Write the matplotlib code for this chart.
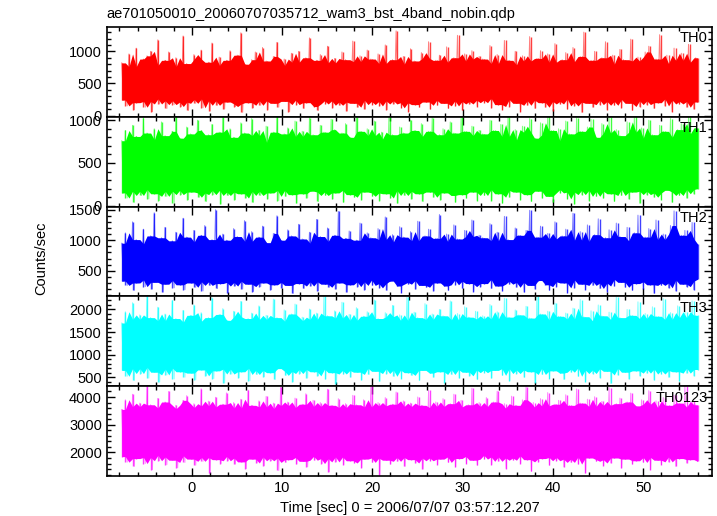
import numpy as np
import matplotlib
matplotlib.use('Agg')
import matplotlib.pyplot as plt
from matplotlib.ticker import MultipleLocator

plt.rcParams['font.family'] = ['Liberation Sans', 'DejaVu Sans']

title = 'ae701050010_20060707035712_wam3_bst_4band_nobin.qdp'
xlabel = 'Time [sec] 0 = 2006/07/07 03:57:12.207'
ylabel = 'Counts/sec'
t_start = -7.75
t_end = 56.0

# peak / trough values, one pair per time bin
th0_hi = [
820, 700, 960, 760, 1050, 690, 880, 930, 1000, 780,
1180, 720, 860, 990, 670, 900, 760, 1240, 810, 700,
950, 880, 1020, 740, 830, 1130, 690, 910, 780, 860,
1010, 720, 940, 1290, 800, 680, 870, 990, 760, 1060,
850, 700, 920, 1140, 780, 880, 660, 970, 830, 1000,
740, 900, 1210, 790, 860, 950, 710, 1080, 820, 890,
760, 990, 870, 700, 1160, 840, 930, 780, 1020, 880,
690, 960, 810, 1100, 750, 870, 1320, 800, 920, 760,
1040, 850, 700, 980, 890, 1150, 770, 860, 940, 720,
1070, 830, 900, 1250, 780, 960, 850, 1010, 880, 920,
880, 740, 1090, 810, 950, 700, 1170, 860, 790, 1000,
720, 930, 850, 1230, 770, 890, 1010, 690, 960, 830,
1120, 750, 870, 980, 710, 1060, 840, 920, 1300, 780,
860, 1000, 730, 900, 1150, 800, 940, 690, 1030, 870,
760, 1190, 850, 910, 720, 990, 1080, 770, 880, 1260,
810, 940, 700, 1050, 860, 970, 740, 1110, 830, 900]
th0_lo = [
240, 150, 310, 90, 200, 280, 130, 220, 60, 260,
180, 300, 110, 230, 170, 270, 140, 210, 80, 250,
190, 320, 120, 260, 70, 230, 160, 290, 100, 210,
250, 140, 180, 50, 270, 200, 120, 310, 160, 230,
90, 260, 190, 130, 280, 220, 60, 240, 170, 300,
110, 200, 250, 140, 80, 270, 180, 230, 120, 290,
160, 210, 70, 260, 190, 130, 240, 100, 280, 170,
220, 150, 300, 90, 230, 180, 260, 120, 200, 60,
250, 170, 130, 290, 210, 100, 240, 160, 270, 190,
110, 230, 150, 280, 80, 220, 180, 260, 140, 240,
200, 270, 120, 310, 170, 90, 250, 140, 290, 190,
60, 230, 160, 280, 110, 240, 200, 130, 300, 70,
220, 180, 260, 100, 290, 150, 210, 50, 270, 190,
130, 240, 170, 300, 90, 220, 160, 280, 120, 250,
190, 80, 270, 140, 230, 170, 310, 110, 200, 260,
150, 290, 60, 240, 180, 220, 130, 270, 100, 210]

th1_hi = [
760, 880, 690, 940, 810, 720, 1030, 850, 770, 900,
680, 980, 820, 740, 870, 1050, 790, 700, 920, 840,
760, 1000, 880, 710, 830, 950, 770, 860, 1040, 730,
900, 800, 690, 970, 850, 760, 1020, 820, 880, 740,
930, 700, 860, 1050, 780, 840, 910, 720, 990, 810,
870, 750, 1030, 830, 700, 940, 860, 780, 1010, 890,
730, 850, 960, 800, 720, 1040, 870, 760, 900, 820,
990, 740, 860, 780, 1050, 830, 710, 920, 850, 770,
1000, 880, 740, 960, 810, 870, 1030, 760, 830, 900,
720, 980, 850, 790, 1040, 870, 750, 930, 820, 880,
840, 760, 1000, 880, 720, 950, 810, 1040, 770, 890,
700, 930, 860, 1020, 790, 740, 970, 830, 1050, 880,
760, 900, 710, 990, 840, 780, 1030, 870, 750, 920,
1010, 800, 730, 960, 850, 1040, 770, 890, 820, 700,
980, 860, 1050, 740, 910, 790, 1000, 830, 760, 940,
870, 720, 1020, 800, 890, 960, 750, 1040, 840, 910]
th1_lo = [
150, 90, 210, 40, 170, 120, 230, 80, 190, 140,
60, 200, 110, 170, 30, 220, 130, 180, 70, 160,
240, 100, 150, 50, 200, 130, 180, 20, 210, 120,
160, 70, 230, 140, 90, 190, 40, 170, 120, 210,
80, 150, 200, 60, 180, 110, 230, 130, 30, 190,
140, 90, 170, 220, 50, 160, 120, 200, 80, 150,
210, 40, 180, 130, 100, 230, 70, 160, 190, 110,
150, 60, 220, 140, 90, 180, 30, 200, 120, 170,
80, 210, 140, 50, 190, 160, 100, 230, 70, 150,
180, 120, 40, 200, 130, 90, 210, 160, 60, 170,
120, 190, 60, 220, 140, 30, 180, 100, 240, 160,
70, 200, 130, 50, 210, 170, 90, 230, 110, 40,
190, 150, 220, 80, 160, 20, 200, 130, 180, 60,
230, 110, 170, 90, 210, 140, 50, 190, 120, 220,
80, 160, 200, 30, 170, 130, 240, 100, 150, 70,
210, 180, 40, 160, 120, 230, 90, 190, 140, 200]

th2_hi = [
950, 1120, 880, 1300, 1010, 860, 1180, 940, 1070, 1450,
900, 1040, 1210, 870, 990, 1130, 920, 1360, 1050, 880,
1160, 970, 1080, 1240, 890, 1010, 1500, 940, 1100, 1000,
870, 1190, 1060, 920, 1320, 980, 1140, 900, 1050, 1230,
960, 880, 1110, 1400, 1000, 930, 1170, 1070, 890, 1260,
1020, 950, 1130, 870, 1340, 1060, 980, 1200, 910, 1080,
1470, 940, 1030, 1150, 880, 1000, 1280, 960, 1120, 1040,
900, 1190, 1010, 1380, 930, 1090, 970, 1220, 1050, 890,
1140, 990, 1310, 920, 1070, 1180, 950, 1030, 1420, 980,
1100, 880, 1250, 1020, 960, 1160, 1060, 1330, 940, 1080,
1040, 920, 1270, 990, 1130, 880, 1390, 1010, 960, 1200,
1080, 900, 1160, 1490, 950, 1050, 1230, 870, 1110, 1020,
1300, 940, 1070, 1180, 910, 1440, 1000, 1140, 980, 1250,
890, 1090, 1350, 960, 1040, 1170, 920, 1280, 1060, 990,
1210, 880, 1120, 1410, 970, 1050, 1190, 930, 1330, 1010,
1100, 950, 1240, 1480, 900, 1080, 1160, 1020, 1290, 940]
th2_lo = [
330, 260, 390, 180, 300, 420, 240, 350, 200, 310,
380, 150, 280, 340, 220, 400, 270, 190, 360, 300,
230, 410, 170, 320, 260, 380, 210, 290, 350, 140,
310, 250, 370, 200, 330, 280, 160, 390, 240, 300,
350, 190, 270, 420, 220, 310, 260, 130, 340, 290,
210, 380, 250, 320, 170, 360, 280, 230, 400, 200,
300, 340, 150, 270, 390, 240, 320, 190, 350, 260,
410, 220, 290, 180, 330, 370, 250, 140, 310, 280,
360, 200, 340, 260, 230, 390, 170, 300, 320, 250,
180, 350, 270, 400, 210, 330, 290, 160, 370, 240,
290, 360, 210, 400, 250, 170, 330, 280, 390, 230,
310, 150, 370, 260, 200, 340, 420, 270, 180, 320,
240, 380, 300, 140, 350, 220, 400, 280, 190, 330,
260, 410, 210, 300, 160, 360, 250, 390, 310, 230,
340, 180, 290, 370, 200, 320, 270, 130, 380, 260,
300, 220, 350, 170, 410, 280, 240, 330, 190, 360]

th3_hi = [
1700, 1950, 1620, 2150, 1780, 1880, 1600, 2290, 1820, 1690,
2050, 1750, 1900, 1640, 2200, 1800, 1720, 1980, 1660, 1870,
2100, 1740, 1930, 1610, 1820, 2260, 1700, 1890, 2020, 1760,
1650, 1960, 1840, 2180, 1710, 1800, 1920, 1630, 2080, 1780,
1870, 1690, 2230, 1820, 1740, 1990, 1660, 1900, 2120, 1750,
1830, 1640, 2010, 1780, 1920, 1700, 2290, 1860, 1730, 1970,
1810, 2160, 1680, 1890, 1760, 2040, 1620, 1850, 1950, 1720,
2210, 1800, 1670, 1930, 1840, 2090, 1710, 1880, 1760, 2270,
1690, 1940, 1820, 1650, 2130, 1780, 1900, 1730, 2000, 1860,
1640, 2190, 1770, 1910, 1700, 2060, 1830, 1680, 1960, 1790,
1860, 1700, 2110, 1790, 1950, 1640, 2250, 1830, 1720, 1990,
1880, 1660, 2070, 1810, 1740, 2290, 1900, 1680, 1960, 1770,
2140, 1850, 1620, 1920, 1790, 2030, 1710, 2220, 1840, 1750,
1970, 1690, 2100, 1860, 1780, 1940, 1650, 2280, 1820, 1730,
2000, 1870, 1700, 2170, 1800, 1910, 1660, 2060, 1850, 1760,
2240, 1780, 1930, 1690, 2080, 1820, 1950, 1710, 2190, 1870]
th3_lo = [
650, 520, 760, 430, 690, 580, 810, 480, 720, 610,
390, 680, 550, 770, 460, 700, 620, 500, 740, 590,
440, 710, 660, 530, 800, 470, 640, 730, 370, 680,
570, 750, 490, 620, 700, 420, 780, 560, 650, 510,
730, 600, 450, 690, 760, 540, 630, 400, 710, 580,
670, 480, 790, 620, 530, 740, 460, 680, 600, 350,
720, 570, 650, 500, 770, 610, 440, 700, 560, 740,
630, 410, 690, 580, 720, 520, 660, 470, 780, 600,
540, 710, 430, 650, 760, 590, 500, 690, 620, 380,
730, 560, 670, 480, 750, 610, 530, 700, 450, 660,
600, 720, 480, 650, 780, 540, 690, 420, 740, 580,
660, 500, 760, 620, 380, 700, 560, 730, 470, 640,
790, 590, 450, 680, 610, 750, 520, 710, 400, 660,
580, 740, 490, 690, 630, 360, 770, 550, 700, 610,
460, 720, 640, 530, 780, 590, 680, 440, 730, 570,
650, 500, 760, 620, 410, 700, 590, 740, 530, 670]

th0123_hi = [
3550, 3900, 3420, 4100, 3650, 3780, 3480, 4390, 3720, 3600,
3950, 3500, 3820, 4200, 3580, 3700, 3460, 3880, 4050, 3620,
3760, 3440, 4300, 3680, 3850, 3520, 3990, 3640, 3740, 4150,
3480, 3800, 3600, 3920, 3560, 4250, 3700, 3450, 3860, 3640,
4020, 3580, 3780, 3500, 4350, 3690, 3820, 3540, 3960, 3620,
3740, 4120, 3460, 3880, 3660, 3800, 3520, 4280, 3700, 3580,
3940, 3620, 3760, 3480, 4060, 3720, 3560, 3900, 3640, 4390,
3520, 3800, 3680, 3980, 3600, 3740, 4180, 3500, 3860, 3660,
3780, 3540, 4000, 3700, 3620, 4240, 3580, 3820, 3660, 3940,
3500, 3760, 4100, 3640, 3880, 3560, 3720, 4320, 3600, 3800,
3660, 3980, 3520, 3820, 4210, 3600, 3760, 3480, 4030, 3700,
3580, 3900, 4370, 3640, 3800, 3500, 3940, 3680, 4160, 3560,
3740, 3880, 3460, 4080, 3700, 3620, 4290, 3780, 3540, 3920,
3660, 4010, 3580, 3840, 3700, 4340, 3520, 3760, 3960, 3600,
3820, 4140, 3680, 3500, 3900, 3740, 4230, 3620, 3860, 3560,
3980, 3700, 3480, 4060, 3780, 3640, 4390, 3580, 3840, 3720]
th0123_lo = [
1850, 1650, 2000, 1500, 1780, 1920, 1600, 1820, 1380, 1900,
1700, 1980, 1560, 1840, 1720, 1450, 1880, 1640, 1960, 1760,
1540, 1900, 1680, 1820, 1250, 1940, 1740, 1600, 1860, 1700,
1980, 1580, 1800, 1660, 1420, 1900, 1760, 1620, 1840, 1520,
1960, 1700, 1800, 1350, 1880, 1640, 1740, 1920, 1580, 1820,
1680, 1480, 1940, 1720, 1860, 1600, 1780, 1300, 1900, 1660,
1840, 1560, 1980, 1700, 1620, 1880, 1450, 1760, 1920, 1640,
1800, 1200, 1860, 1720, 1580, 1940, 1680, 1820, 1500, 1900,
1740, 1620, 1960, 1400, 1800, 1700, 1880, 1560, 1760, 1920,
1640, 1840, 1480, 1780, 1960, 1600, 1860, 1720, 1540, 1900,
1760, 1900, 1560, 1840, 1680, 1960, 1420, 1800, 1720, 1880,
1600, 1940, 1740, 1320, 1860, 1660, 1780, 1980, 1540, 1820,
1700, 1900, 1480, 1760, 1640, 1920, 1580, 1840, 1260, 1800,
1960, 1680, 1740, 1520, 1880, 1620, 1800, 1940, 1440, 1760,
1860, 1580, 1700, 1980, 1640, 1820, 1380, 1900, 1720, 1560,
1840, 1660, 1960, 1500, 1780, 1880, 1620, 1740, 1920, 1680]

names = ['TH0', 'TH1', 'TH2', 'TH3', 'TH0123']
his = [th0_hi, th1_hi, th2_hi, th3_hi, th0123_hi]
los = [th0_lo, th1_lo, th2_lo, th3_lo, th0123_lo]
colors = ['#ff0000', '#00ff00', '#0000ff', '#00ffff', '#ff00ff']
ylims = [(-20, 1380), (-10, 1040), (80, 1550), (300, 2290), (1150, 4390)]
majors = [500, 500, 500, 500, 1000]
minors = [100, 100, 100, 100, 200]

fig = plt.figure(figsize=(7.17, 5.16), dpi=100)
gs = fig.add_gridspec(5, 1, left=0.149, right=0.993, bottom=0.0775,
                      top=0.9477, hspace=0)

for i in range(5):
    ax = fig.add_subplot(gs[i])
    hi = np.array(his[i])
    lo = np.array(los[i])
    tb = np.linspace(t_start, t_end, len(hi))
    # solid core: median of each bin and its neighbours
    hp = np.pad(hi, 1, mode='edge')
    lp = np.pad(lo, 1, mode='edge')
    core_hi = np.median(np.vstack([hp[:-2], hp[1:-1], hp[2:]]), axis=0)
    core_lo = np.median(np.vstack([lp[:-2], lp[1:-1], lp[2:]]), axis=0)
    ax.fill_between(tb, core_lo, core_hi, color=colors[i], lw=0)
    # thin spikes from each bin's trough to its peak
    ax.vlines(tb, lo, hi, color=colors[i], lw=1.0, alpha=0.75)
    y = np.column_stack([hi, lo]).ravel()
    t = np.linspace(t_start, t_end, len(y))
    ax.plot(t, y, color=colors[i], lw=0.7, alpha=0.5)
    ax.set_xlim(-9.4, 57.6)
    ax.set_ylim(*ylims[i])
    ax.xaxis.set_major_locator(MultipleLocator(10))
    ax.xaxis.set_minor_locator(MultipleLocator(2))
    ax.yaxis.set_major_locator(MultipleLocator(majors[i]))
    ax.yaxis.set_minor_locator(MultipleLocator(minors[i]))
    ax.tick_params(which='both', direction='in', top=True, right=True,
                   labelsize=10.5, width=1.0)
    ax.tick_params(which='major', length=6)
    ax.tick_params(which='minor', length=3)
    for s in ax.spines.values():
        s.set_linewidth(1.2)
    if i < 4:
        ax.tick_params(labelbottom=False)
    ax.text(0.993, 0.95, names[i], transform=ax.transAxes, ha='right',
            va='top', fontsize=10.5)

fig.text(0.149, 0.972, title, ha='left', va='center', fontsize=10.5)
fig.text(0.058, 0.5, ylabel, rotation=90, ha='center', va='center',
         fontsize=10.5)
fig.text(0.571, 0.016, xlabel, ha='center', va='center', fontsize=10.5)

fig.savefig('out.png', dpi=100)
